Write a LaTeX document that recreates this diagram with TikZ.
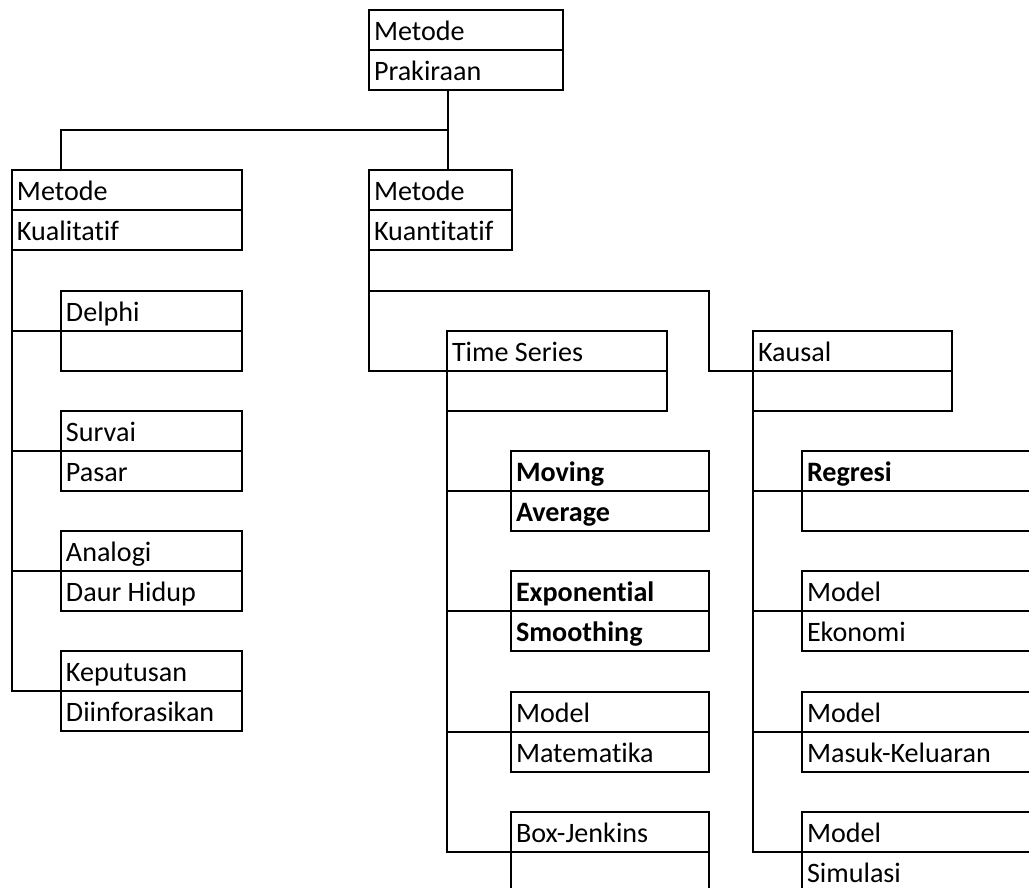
\documentclass[tikz,border=0pt]{standalone}
\usepackage{fontspec}
\setmainfont{Carlito}[Ligatures=NoCommon]
\usetikzlibrary{positioning}
\newcommand{\cellfont}{\fontsize{16pt}{19pt}\selectfont}

\begin{document}
\begin{tikzpicture}[
    x=0.02cm, y=-0.02cm,
    cell/.style={
        rectangle,
        draw=black,
        line width=0.04cm,
        anchor=north west,
        inner xsep=0.1cm,
        inner ysep=0pt,
        outer sep=0pt,
        minimum height=0.8cm,
        text height=17.3pt,
        text depth=5.3pt,
        text width=#1,
        align=flush left,
        font=\cellfont
    },
    link/.style={
        line width=0.04cm,
        black
    }
]
\useasboundingbox (0,0) rectangle (1029,887);
\clip (0,0) rectangle (1029,887);

% Root
\node[cell=3.68cm] (prak) at (369,10) {Metode};
\node[cell=3.68cm, below=0pt of prak] (prak2) {Prakiraan};

% Second level
\node[cell=4.40cm] (kual) at (12,170) {Metode};
\node[cell=4.40cm, below=0pt of kual] (kual2) {Kualitatif};
\node[cell=2.66cm] (kuan) at (369,170) {Metode};
\node[cell=2.66cm, below=0pt of kuan] (kuan2) {Kuantitatif};

% Qualitative methods
\node[cell=3.42cm] (delphi) at (61,291) {Delphi};
\node[cell=3.42cm, below=0pt of delphi] (delphi2) {};
\node[cell=3.42cm] (survai) at (61,411) {Survai};
\node[cell=3.42cm, below=0pt of survai] (survai2) {Pasar};
\node[cell=3.42cm] (analogi) at (61,531) {Analogi};
\node[cell=3.42cm, below=0pt of analogi] (analogi2) {Daur Hidup};
\node[cell=3.42cm] (kep) at (61,651) {Keputusan};
\node[cell=3.42cm, below=0pt of kep] (kep2) {Diinforasikan};

% Quantitative groups
\node[cell=4.20cm] (ts) at (447,331) {Time Series};
\node[cell=4.20cm, below=0pt of ts] (ts2) {};
\node[cell=3.78cm] (kausal) at (753,331) {Kausal};
\node[cell=3.78cm, below=0pt of kausal] (kausal2) {};

% Time series methods
\node[cell=3.76cm] (moving) at (511,451) {\textbf{Moving}};
\node[cell=3.76cm, below=0pt of moving] (moving2) {\textbf{Average}};
\node[cell=3.76cm] (expo) at (511,571) {\textbf{Exponential}};
\node[cell=3.76cm, below=0pt of expo] (expo2) {\textbf{Smoothing}};
\node[cell=3.76cm] (modmat) at (511,692) {Model};
\node[cell=3.76cm, below=0pt of modmat] (modmat2) {Matematika};
\node[cell=3.76cm] (boxj) at (511,812) {Box-Jenkins};
\node[cell=3.76cm, below=0pt of boxj] (boxj2) {};

% Causal methods
\node[cell=4.66cm] (regresi) at (802,451) {\textbf{Regresi}};
\node[cell=4.66cm, below=0pt of regresi] (regresi2) {};
\node[cell=4.66cm] (ekon) at (802,571) {Model};
\node[cell=4.66cm, below=0pt of ekon] (ekon2) {Ekonomi};
\node[cell=4.66cm] (io) at (802,692) {Model};
\node[cell=4.66cm, below=0pt of io] (io2) {Masuk-Keluaran};
\node[cell=4.66cm] (sim) at (802,812) {Model};
\node[cell=4.66cm, below=0pt of sim] (sim2) {Simulasi};

% Root connectors
\coordinate (split) at (448,130);
\draw[link] (prak2.south -| split) -- (kuan.north -| split);
\draw[link] (split) -| (kual.north -| delphi.west);

% Qualitative branch
\draw[link] (kual2.south west) |- (kep.south west);
\foreach \c in {delphi, survai, analogi}
    \draw[link] (kual2.south west |- \c.south) -- (\c.south west);

% Quantitative branch
\coordinate (fork) at (709,291);
\draw[link] (kuan2.south west) |- (ts.south west);
\draw[link] (kuan2.west |- fork) -- (fork) |- (kausal.south west);

% Time series branch
\draw[link] (ts2.south west) |- (boxj.south west);
\foreach \c in {moving, expo, modmat}
    \draw[link] (ts2.south west |- \c.south) -- (\c.south west);

% Causal branch
\draw[link] (kausal2.south west) |- (sim.south west);
\foreach \c in {regresi, ekon, io}
    \draw[link] (kausal2.south west |- \c.south) -- (\c.south west);

\end{tikzpicture}
\end{document}
